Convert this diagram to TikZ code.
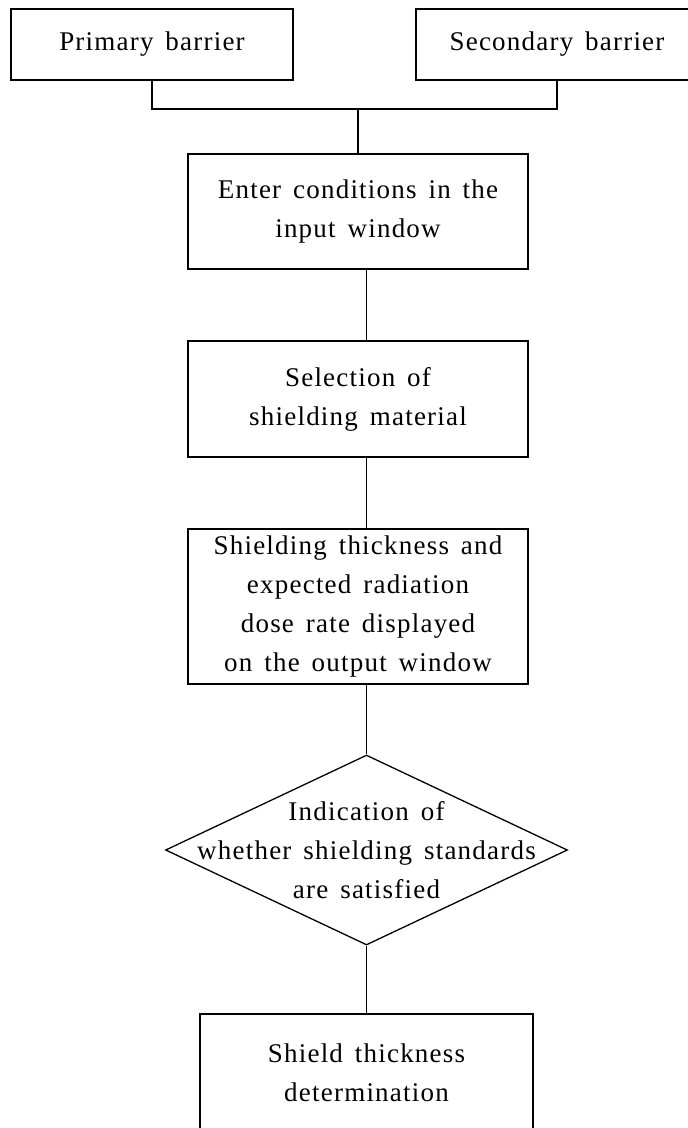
\documentclass[tikz,border=0pt]{standalone}
\usepackage{fontspec}
\setmainfont{Liberation Serif}[LetterSpace=4.5,WordSpace=1.5]
\usetikzlibrary{shapes.geometric}
\tikzset{
  box/.style={draw=black, line width=1.3pt, rectangle, inner sep=0pt, align=center,
    font=\fontsize{27}{39}\selectfont},
  decision/.style={draw=black, line width=1.3pt, diamond, inner sep=0pt},
  txt/.style={inner sep=0pt, align=center, font=\fontsize{27}{39}\selectfont},
  link/.style={draw=black, line width=1.3pt}
}
\begin{document}
\begin{tikzpicture}[x=1pt,y=-1pt]
\useasboundingbox (0,0) rectangle (688,1128);
\clip (0,0) rectangle (688,1128);
\node[box, minimum width=282pt, minimum height=71pt] (prim) at (152,44.5) {Primary barrier};
\node[box, minimum width=282pt, minimum height=71pt] (sec) at (557,44.5) {Secondary barrier};
\node[box, minimum width=340pt, minimum height=115pt] (enter) at (358,211.5) {Enter conditions in the\\input window};
\node[box, minimum width=340pt, minimum height=116pt] (sel) at (358,399) {Selection of\\shielding material};
\node[box, minimum width=340pt, minimum height=155pt] (disp) at (358,606.5) {Shielding thickness and\\expected radiation\\dose rate displayed\\on the output window};
\node[decision, minimum width=402pt, minimum height=190pt] (dec) at (366.5,850) {};
\node[txt] (dectext) at (dec.center) {Indication of\\whether shielding standards\\are satisfied};
\node[box, minimum width=333pt, minimum height=118pt] (det) at (366.5,1073) {Shield thickness\\determination};
\coordinate (join) at (358,109);
\draw[link] (prim.south) |- (join);
\draw[link] (sec.south) |- (join);
\draw[link] (join) -- (enter.north);
\draw[link] (enter.south -| dec.north) -- (sel.north -| dec.north);
\draw[link] (sel.south -| dec.north) -- (disp.north -| dec.north);
\draw[link] (disp.south -| dec.north) -- (dec.north);
\draw[link] (dec.south) -- (det.north);
\end{tikzpicture}
\end{document}
